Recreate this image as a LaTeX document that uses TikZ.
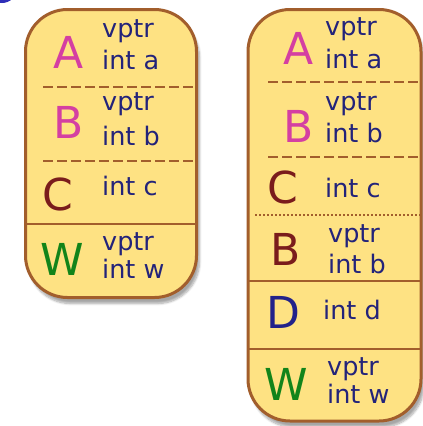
\documentclass[tikz,border=0pt]{standalone}
\usepackage{fontspec}
\setmainfont{DejaVu Sans}
\usetikzlibrary{shadows,shadows.blur}
\definecolor{boxfill}{HTML}{FEE283}
\definecolor{boxline}{HTML}{A25E2C}
\definecolor{txt}{HTML}{23237A}
\definecolor{magent}{HTML}{D43FA2}
\definecolor{dred}{HTML}{7A1C1C}
\definecolor{dblue}{HTML}{22228A}
\definecolor{dgreen}{HTML}{12841A}
\definecolor{blob}{HTML}{2E2EB8}
\tikzset{
  box/.style={draw=boxline, line width=3pt, fill=boxfill, rounded corners=42pt,
    inner sep=0pt, outer sep=0pt,
    blur shadow={shadow xshift=3pt, shadow yshift=-6pt, shadow opacity=35, shadow blur steps=8}},
  big/.style={anchor=base, inner sep=0pt, font=\fontsize{44}{50}\selectfont},
  small/.style={anchor=base west, inner sep=0pt, text=txt, font=\fontsize{25.5}{30}\selectfont},
  sep/.style={draw=boxline, line width=1.8pt},
  dashsep/.style={sep, dash pattern=on 10pt off 4pt},
  dotsep/.style={sep, line width=1.6pt, dash pattern=on 1.6pt off 2.4pt},
}
\begin{document}
\begin{tikzpicture}[x=1pt,y=-1pt]
\useasboundingbox (0,0) rectangle (423,426);
\fill[blob] (2,-12) circle (15);
% left box
\node[box, minimum width=171pt, minimum height=288pt] (L) at (111,153.5) {};
\node[big, text=magent] (LA) at (69,68) {A};
\node[small] (La1) at (102,37) {vptr};
\node[small] (La2) at (102,69) {int a};
\node[big, text=magent] (LB) at (69,138) {B};
\node[small] (Lb1) at (102,110) {vptr};
\node[small] (Lb2) at (102,145) {int b};
\node[big, text=dred] (LC) at (58,210) {C};
\node[small] (Lc1) at (102,195) {int c};
\node[big, text=dgreen] (LW) at (62,275) {W};
\node[small] (Lw1) at (102,250) {vptr};
\node[small] (Lw2) at (102,278) {int w};
\coordinate (l1) at (43,87);
\coordinate (l2) at (43,161);
\coordinate (l3) at (L.west |- 0,224);
\draw[dashsep] (l1) -- (L.east |- l1);
\draw[dashsep] (l2) -- (L.east |- l2);
\draw[sep] (l3) -- (L.east |- l3);
% right box
\node[box, minimum width=173pt, minimum height=411.5pt] (R) at (334.5,215.25) {};
\node[big, text=magent] (RA) at (299,64) {A};
\node[small] (Ra1) at (325,35) {vptr};
\node[small] (Ra2) at (325,68) {int a};
\node[big, text=magent] (RB) at (299,142) {B};
\node[small] (Rb1) at (325,110) {vptr};
\node[small] (Rb2) at (325,142) {int b};
\node[big, text=dred] (RC) at (283,203) {C};
\node[small] (Rc1) at (325,197) {int c};
\node[big, text=dred] (RB2) at (286,265) {B};
\node[small] (Rb3) at (328,242) {vptr};
\node[small] (Rb4) at (328,273) {int b};
\node[big, text=dblue] (RD) at (283,328) {D};
\node[small] (Rd1) at (323,319) {int d};
\node[big, text=dgreen] (RW) at (286,400) {W};
\node[small] (Rw1) at (327,375) {vptr};
\node[small] (Rw2) at (327,403) {int w};
\coordinate (r1) at (268,82);
\coordinate (r2) at (268,157);
\coordinate (r3) at (255,215);
\coordinate (r4) at (R.west |- 0,281);
\coordinate (r5) at (R.west |- 0,349);
\draw[dashsep] (r1) -- (R.east |- r1);
\draw[dashsep] (r2) -- (R.east |- r2);
\draw[dotsep] (r3) -- (R.east |- r3);
\draw[sep] (r4) -- (R.east |- r4);
\draw[sep] (r5) -- (R.east |- r5);
\end{tikzpicture}
\end{document}
